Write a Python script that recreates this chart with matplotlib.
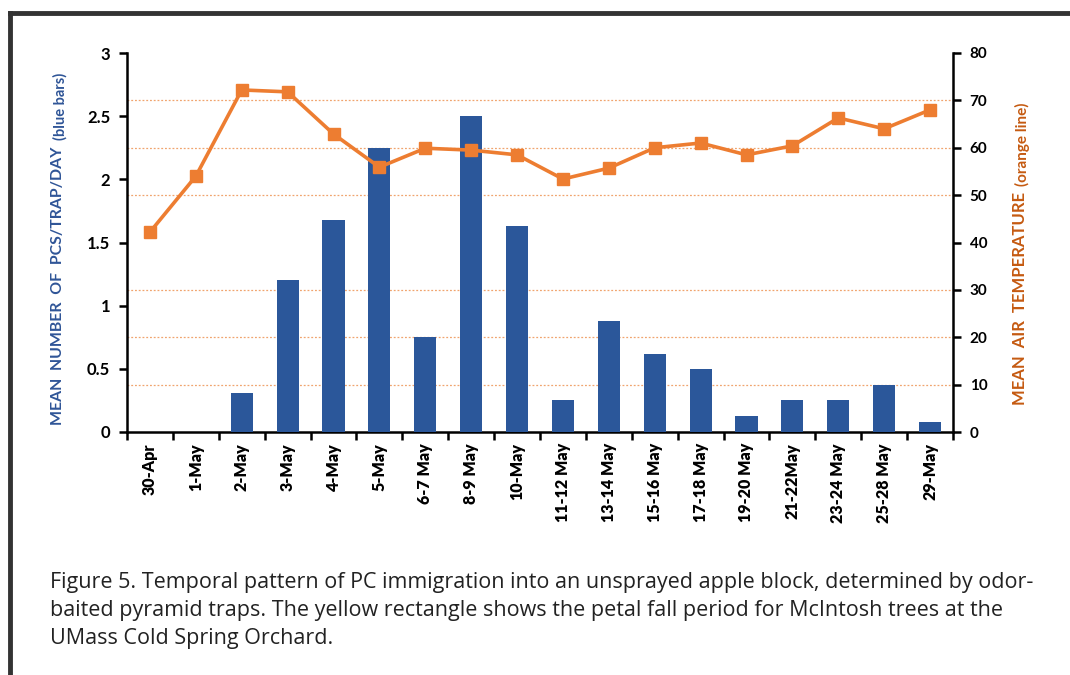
import matplotlib
matplotlib.use("Agg")
import matplotlib.pyplot as plt
import numpy as np
from matplotlib.lines import Line2D

plt.rcParams["font.family"] = ["Lato", "DejaVu Sans"]

# data
dates = ["30-Apr", "1-May", "2-May", "3-May", "4-May", "5-May", "6-7 May", "8-9 May",
         "10-May", "11-12 May", "13-14 May", "15-16 May", "17-18 May", "19-20 May",
         "21-22May", "23-24 May", "25-28 May", "29-May"]
pcs_per_trap = [0, 0, 0.31, 1.2, 1.68, 2.25, 0.75, 2.5, 1.63, 0.25, 0.88, 0.62, 0.5,
                0.125, 0.25, 0.25, 0.375, 0.083]
air_temp = [42.2, 54.0, 72.2, 71.8, 62.9, 55.9, 59.9, 59.5, 58.5, 53.4, 55.7, 60.0,
            61.0, 58.5, 60.4, 66.3, 64.0, 68.0]
left_ticks = [0, 0.5, 1, 1.5, 2, 2.5, 3]
right_ticks = [0, 10, 20, 30, 40, 50, 60, 70, 80]

caption = ("Figure 5. Temporal pattern of PC immigration into an unsprayed apple block, determined by odor-\n"
           "baited pyramid traps. The yellow rectangle shows the petal fall period for McIntosh trees at the\n"
           "UMass Cold Spring Orchard.")

BLUE = "#2B579A"
ORANGE = "#ED7D31"
W, H = 1070, 675

fig = plt.figure(figsize=(W / 100, H / 100), dpi=100)
ax = fig.add_axes([127 / W, 1 - 432 / H, (953 - 127) / W, (432 - 53) / H])
ax2 = ax.twinx()

x = np.arange(len(dates))
ax.bar(x, pcs_per_trap, width=0.48, color=BLUE, zorder=3)
ax2.plot(x, air_temp, color=ORANGE, linewidth=2.6, marker="s", markersize=9, zorder=4)

ax.set_xlim(-0.5, len(dates) - 0.5)
ax.set_ylim(0, 3)
ax2.set_ylim(0, 80)

ax.set_yticks(left_ticks)
ax.set_yticklabels([f"{v:g}" for v in left_ticks], fontsize=12, fontweight="bold")
ax2.set_yticks(right_ticks)
ax2.set_yticklabels([str(v) for v in right_ticks], fontsize=11, fontweight="bold")

# orange dotted gridlines at the temperature ticks, behind the bars
grid_pos = [t / 80 * 3 for t in right_ticks[1:]]
ax.set_yticks(grid_pos, minor=True)
ax.tick_params(axis="y", which="minor", length=0)
ax.grid(axis="y", which="minor", color="#F0A46E", linestyle=(0, (1.5, 1.5)), linewidth=0.9, zorder=0)

ax.set_xticks(x)
ax.set_xticklabels(dates, rotation=90, fontsize=11.5, fontweight="heavy")
ax.set_xticks(np.arange(len(dates) + 1) - 0.5, minor=True)
ax.tick_params(axis="x", which="major", length=0, pad=8)
ax.tick_params(axis="x", which="minor", length=6, width=1.8, direction="out")
ax.tick_params(axis="y", which="major", length=6, width=1.8, pad=6)
ax2.tick_params(axis="y", length=6, width=1.8, pad=6)

for a in (ax, ax2):
    a.spines["top"].set_visible(False)
    for s in ("left", "right", "bottom"):
        a.spines[s].set_linewidth(1.8)
ax.spines["right"].set_visible(False)
ax2.spines["left"].set_visible(False)
ax2.spines["bottom"].set_visible(False)

# axis titles: big bold part followed by a smaller part
fig.canvas.draw()
renderer = fig.canvas.get_renderer()


def two_part_label(xpix, ystart, big, small, color, big_size, small_size):
    t1 = fig.text(xpix / W, 1 - ystart / H, big, rotation=90, rotation_mode="anchor",
                  ha="left", va="center", fontsize=big_size, fontweight="bold", color=color)
    bb = t1.get_window_extent(renderer)
    fig.text(xpix / W + 2.5 / W, (bb.y1 + 6) / H, small, rotation=90, rotation_mode="anchor",
             ha="left", va="center", fontsize=small_size, fontweight="bold", color=color)


two_part_label(58, 425, "MEAN  NUMBER  OF  PCS/TRAP/DAY", "(blue bars)", "#2F5597", 11.4, 10.5)
two_part_label(1020, 405, "MEAN  AIR  TEMPERATURE", "(orange line)", "#C55A11", 12, 11)

fig.text(50 / W, 1 - 572 / H, caption, ha="left", va="top", fontsize=15.5,
         color="#222222", linespacing=1.45, family=["Open Sans", "DejaVu Sans"])

# page frame: top and left border lines
fig.add_artist(Line2D([10 / W, 1], [1 - 13 / H, 1 - 13 / H], color="#333333", linewidth=3.5,
                      transform=fig.transFigure))
fig.add_artist(Line2D([10 / W, 10 / W], [0, 1 - 13 / H], color="#333333", linewidth=3.5,
                      transform=fig.transFigure))

fig.savefig("out.png", dpi=100)
